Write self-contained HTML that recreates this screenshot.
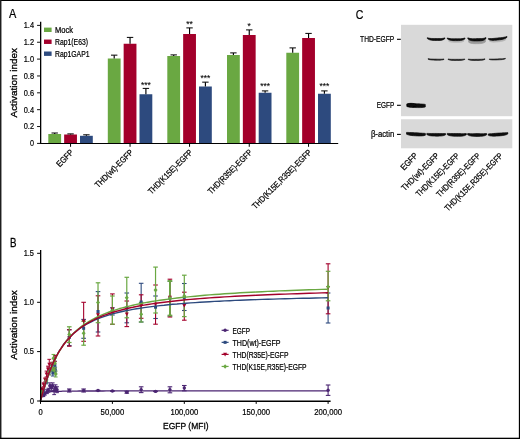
<!DOCTYPE html>
<html lang="en">
<head>
<meta charset="utf-8">
<title>Figure</title>
<style>
html,body{margin:0;padding:0;background:#fff;}
body{width:520px;height:439px;overflow:hidden;}
svg{display:block;font-family:'Liberation Sans', sans-serif;}
svg text{fill:#000;stroke:#000;stroke-width:0.22px;}
</style>
</head>
<body>
<svg role="img" aria-label="Figure panels A, B and C" width="520" height="439" viewBox="0 0 520 439">
<rect x="0" y="0" width="520" height="439" fill="#ffffff"/>
<text x="9.10" y="18.00" font-size="12.0" textLength="7.30" lengthAdjust="spacingAndGlyphs">A</text>
<text x="10.00" y="246.70" font-size="12.8" textLength="6.50" lengthAdjust="spacingAndGlyphs" style="stroke-width:0.3px">B</text>
<text x="355.70" y="18.70" font-size="13.6" textLength="7.60" lengthAdjust="spacingAndGlyphs">C</text>
<rect x="48.30" y="134.00" width="12.80" height="9.40" fill="#6aa842"/>
<line x1="54.70" y1="134.00" x2="54.70" y2="133.00" stroke="#000" stroke-width="1.15"/>
<line x1="51.50" y1="133.00" x2="57.90" y2="133.00" stroke="#000" stroke-width="1.0"/>
<rect x="64.15" y="134.50" width="12.80" height="8.90" fill="#a3002b"/>
<line x1="70.55" y1="134.50" x2="70.55" y2="133.90" stroke="#000" stroke-width="1.15"/>
<line x1="67.35" y1="133.90" x2="73.75" y2="133.90" stroke="#000" stroke-width="1.0"/>
<rect x="80.00" y="135.80" width="12.80" height="7.60" fill="#2d4a7e"/>
<line x1="86.40" y1="135.80" x2="86.40" y2="134.80" stroke="#000" stroke-width="1.15"/>
<line x1="83.20" y1="134.80" x2="89.60" y2="134.80" stroke="#000" stroke-width="1.0"/>
<rect x="107.80" y="58.50" width="12.80" height="84.90" fill="#6aa842"/>
<line x1="114.20" y1="58.50" x2="114.20" y2="55.15" stroke="#000" stroke-width="1.15"/>
<line x1="111.00" y1="55.15" x2="117.40" y2="55.15" stroke="#000" stroke-width="1.0"/>
<rect x="123.65" y="43.75" width="12.80" height="99.65" fill="#a3002b"/>
<line x1="130.05" y1="43.75" x2="130.05" y2="37.40" stroke="#000" stroke-width="1.15"/>
<line x1="126.85" y1="37.40" x2="133.25" y2="37.40" stroke="#000" stroke-width="1.0"/>
<rect x="139.50" y="94.25" width="12.80" height="49.15" fill="#2d4a7e"/>
<line x1="145.90" y1="94.25" x2="145.90" y2="88.40" stroke="#000" stroke-width="1.15"/>
<line x1="142.70" y1="88.40" x2="149.10" y2="88.40" stroke="#000" stroke-width="1.0"/>
<rect x="167.30" y="56.00" width="12.80" height="87.40" fill="#6aa842"/>
<line x1="173.70" y1="56.00" x2="173.70" y2="54.90" stroke="#000" stroke-width="1.15"/>
<line x1="170.50" y1="54.90" x2="176.90" y2="54.90" stroke="#000" stroke-width="1.0"/>
<rect x="183.15" y="34.00" width="12.80" height="109.40" fill="#a3002b"/>
<line x1="189.55" y1="34.00" x2="189.55" y2="27.90" stroke="#000" stroke-width="1.15"/>
<line x1="186.35" y1="27.90" x2="192.75" y2="27.90" stroke="#000" stroke-width="1.0"/>
<rect x="199.00" y="86.50" width="12.80" height="56.90" fill="#2d4a7e"/>
<line x1="205.40" y1="86.50" x2="205.40" y2="82.15" stroke="#000" stroke-width="1.15"/>
<line x1="202.20" y1="82.15" x2="208.60" y2="82.15" stroke="#000" stroke-width="1.0"/>
<rect x="227.00" y="55.00" width="12.80" height="88.40" fill="#6aa842"/>
<line x1="233.40" y1="55.00" x2="233.40" y2="52.90" stroke="#000" stroke-width="1.15"/>
<line x1="230.20" y1="52.90" x2="236.60" y2="52.90" stroke="#000" stroke-width="1.0"/>
<rect x="242.85" y="35.00" width="12.80" height="108.40" fill="#a3002b"/>
<line x1="249.25" y1="35.00" x2="249.25" y2="29.90" stroke="#000" stroke-width="1.15"/>
<line x1="246.05" y1="29.90" x2="252.45" y2="29.90" stroke="#000" stroke-width="1.0"/>
<rect x="258.70" y="92.75" width="12.80" height="50.65" fill="#2d4a7e"/>
<line x1="265.10" y1="92.75" x2="265.10" y2="90.90" stroke="#000" stroke-width="1.15"/>
<line x1="261.90" y1="90.90" x2="268.30" y2="90.90" stroke="#000" stroke-width="1.0"/>
<rect x="286.30" y="52.75" width="12.80" height="90.65" fill="#6aa842"/>
<line x1="292.70" y1="52.75" x2="292.70" y2="47.90" stroke="#000" stroke-width="1.15"/>
<line x1="289.50" y1="47.90" x2="295.90" y2="47.90" stroke="#000" stroke-width="1.0"/>
<rect x="302.15" y="38.00" width="12.80" height="105.40" fill="#a3002b"/>
<line x1="308.55" y1="38.00" x2="308.55" y2="33.40" stroke="#000" stroke-width="1.15"/>
<line x1="305.35" y1="33.40" x2="311.75" y2="33.40" stroke="#000" stroke-width="1.0"/>
<rect x="318.00" y="93.75" width="12.80" height="49.65" fill="#2d4a7e"/>
<line x1="324.40" y1="93.75" x2="324.40" y2="90.90" stroke="#000" stroke-width="1.15"/>
<line x1="321.20" y1="90.90" x2="327.60" y2="90.90" stroke="#000" stroke-width="1.0"/>
<line x1="40.65" y1="21.80" x2="40.65" y2="143.90" stroke="#000" stroke-width="1.3"/>
<line x1="39.85" y1="143.45" x2="338.20" y2="143.45" stroke="#000" stroke-width="1.15"/>
<line x1="37.05" y1="143.40" x2="40.45" y2="143.40" stroke="#111" stroke-width="1.0"/>
<text x="34.05" y="146.35" font-size="9.3" text-anchor="end" textLength="4.00" lengthAdjust="spacingAndGlyphs">0</text>
<line x1="37.05" y1="126.54" x2="40.45" y2="126.54" stroke="#111" stroke-width="1.0"/>
<text x="34.05" y="129.49" font-size="9.3" text-anchor="end" textLength="10.30" lengthAdjust="spacingAndGlyphs">0.2</text>
<line x1="37.05" y1="109.68" x2="40.45" y2="109.68" stroke="#111" stroke-width="1.0"/>
<text x="34.05" y="112.63" font-size="9.3" text-anchor="end" textLength="10.30" lengthAdjust="spacingAndGlyphs">0.4</text>
<line x1="37.05" y1="92.82" x2="40.45" y2="92.82" stroke="#111" stroke-width="1.0"/>
<text x="34.05" y="95.77" font-size="9.3" text-anchor="end" textLength="10.30" lengthAdjust="spacingAndGlyphs">0.6</text>
<line x1="37.05" y1="75.96" x2="40.45" y2="75.96" stroke="#111" stroke-width="1.0"/>
<text x="34.05" y="78.91" font-size="9.3" text-anchor="end" textLength="10.30" lengthAdjust="spacingAndGlyphs">0.8</text>
<line x1="37.05" y1="59.10" x2="40.45" y2="59.10" stroke="#111" stroke-width="1.0"/>
<text x="34.05" y="62.05" font-size="9.3" text-anchor="end" textLength="10.30" lengthAdjust="spacingAndGlyphs">1.0</text>
<line x1="37.05" y1="42.24" x2="40.45" y2="42.24" stroke="#111" stroke-width="1.0"/>
<text x="34.05" y="45.19" font-size="9.3" text-anchor="end" textLength="10.30" lengthAdjust="spacingAndGlyphs">1.2</text>
<line x1="37.05" y1="25.38" x2="40.45" y2="25.38" stroke="#111" stroke-width="1.0"/>
<text x="34.05" y="28.33" font-size="9.3" text-anchor="end" textLength="10.30" lengthAdjust="spacingAndGlyphs">1.4</text>
<line x1="70.55" y1="143.40" x2="70.55" y2="146.80" stroke="#000" stroke-width="1.0"/>
<line x1="130.05" y1="143.40" x2="130.05" y2="146.80" stroke="#000" stroke-width="1.0"/>
<line x1="189.55" y1="143.40" x2="189.55" y2="146.80" stroke="#000" stroke-width="1.0"/>
<line x1="249.25" y1="143.40" x2="249.25" y2="146.80" stroke="#000" stroke-width="1.0"/>
<line x1="308.55" y1="143.40" x2="308.55" y2="146.80" stroke="#000" stroke-width="1.0"/>
<text x="16.60" y="82.80" font-size="9.4" text-anchor="middle" textLength="69.30" lengthAdjust="spacingAndGlyphs" transform="rotate(-90 16.60 82.80)" style="stroke-width:0.32px">Activation index</text>
<rect x="44.00" y="27.60" width="7.60" height="4.40" fill="#6aa842"/>
<text x="55.00" y="32.50" font-size="8.6" textLength="18.00" lengthAdjust="spacingAndGlyphs">Mock</text>
<rect x="44.00" y="39.55" width="7.60" height="4.40" fill="#a3002b"/>
<text x="55.00" y="44.60" font-size="8.6" textLength="33.00" lengthAdjust="spacingAndGlyphs">Rap1(E63)</text>
<rect x="44.00" y="51.50" width="7.60" height="4.40" fill="#2d4a7e"/>
<text x="55.00" y="56.70" font-size="8.6" textLength="34.50" lengthAdjust="spacingAndGlyphs">Rap1GAP1</text>
<text x="145.90" y="87.70" font-size="8.6" text-anchor="middle" textLength="9.90" lengthAdjust="spacingAndGlyphs" style="stroke-width:0.1px">***</text>
<text x="189.55" y="27.20" font-size="8.6" text-anchor="middle" textLength="6.60" lengthAdjust="spacingAndGlyphs" style="stroke-width:0.1px">**</text>
<text x="205.40" y="80.70" font-size="8.6" text-anchor="middle" textLength="9.90" lengthAdjust="spacingAndGlyphs" style="stroke-width:0.1px">***</text>
<text x="249.25" y="29.20" font-size="8.6" text-anchor="middle" textLength="3.30" lengthAdjust="spacingAndGlyphs" style="stroke-width:0.1px">*</text>
<text x="265.10" y="89.20" font-size="8.6" text-anchor="middle" textLength="9.90" lengthAdjust="spacingAndGlyphs" style="stroke-width:0.1px">***</text>
<text x="324.40" y="89.20" font-size="8.6" text-anchor="middle" textLength="9.90" lengthAdjust="spacingAndGlyphs" style="stroke-width:0.1px">***</text>
<text x="74.15" y="153.00" font-size="8.6" text-anchor="end" textLength="20.50" lengthAdjust="spacingAndGlyphs" transform="rotate(-45 74.15 153.00)">EGFP</text>
<text x="133.65" y="153.00" font-size="8.6" text-anchor="end" textLength="50.00" lengthAdjust="spacingAndGlyphs" transform="rotate(-45 133.65 153.00)">THD(wt)-EGFP</text>
<text x="193.15" y="153.00" font-size="8.6" text-anchor="end" textLength="59.00" lengthAdjust="spacingAndGlyphs" transform="rotate(-45 193.15 153.00)">THD(K15E)-EGFP</text>
<text x="252.85" y="153.00" font-size="8.6" text-anchor="end" textLength="59.00" lengthAdjust="spacingAndGlyphs" transform="rotate(-45 252.85 153.00)">THD(R35E)-EGFP</text>
<text x="312.15" y="153.00" font-size="8.6" text-anchor="end" textLength="80.00" lengthAdjust="spacingAndGlyphs" transform="rotate(-45 312.15 153.00)">THD(K15E,R35E)-EGFP</text>
<defs><filter id="bl" x="-20%" y="-100%" width="140%" height="300%"><feGaussianBlur stdDeviation="0.5"/></filter><filter id="bl2" x="-20%" y="-100%" width="140%" height="300%"><feGaussianBlur stdDeviation="0.4"/></filter></defs>
<rect x="401.00" y="24.80" width="111.30" height="91.40" fill="#d9d9d9"/>
<rect x="401.00" y="119.25" width="111.30" height="29.05" fill="#d9d9d9"/>
<path d="M427.3 37.65L428.8 38.07L430.2 38.34L431.7 38.46L433.1 38.49L434.6 38.49L436.1 38.50L437.5 38.52L439.0 38.55L440.4 38.56L441.9 38.47L443.3 38.24L444.8 37.85L444.8 38.75L443.3 39.68L441.9 40.15L440.4 40.38L439.0 40.48L437.5 40.51L436.1 40.50L434.6 40.47L433.1 40.41L431.7 40.28L430.2 40.01L428.8 39.51L427.3 38.55Z" fill="#080808" stroke="#080808" stroke-width="0.6" stroke-linejoin="round" opacity="1" filter="url(#bl)"/>
<path d="M447.3 37.95L448.8 38.35L450.2 38.61L451.7 38.71L453.2 38.72L454.7 38.71L456.1 38.70L457.6 38.71L459.1 38.72L460.6 38.71L462.1 38.61L463.5 38.35L465.0 37.95L465.0 38.85L463.5 39.79L462.1 40.28L460.6 40.53L459.1 40.65L457.6 40.69L456.1 40.70L454.7 40.69L453.2 40.65L451.7 40.53L450.2 40.28L448.8 39.79L447.3 38.85Z" fill="#080808" stroke="#080808" stroke-width="0.6" stroke-linejoin="round" opacity="1" filter="url(#bl)"/>
<path d="M467.8 37.80L469.3 38.27L470.8 38.56L472.4 38.66L473.9 38.66L475.4 38.63L476.9 38.60L478.4 38.59L479.9 38.59L481.4 38.56L483.0 38.43L484.5 38.10L486.0 37.60L486.0 38.60L484.5 39.79L483.0 40.41L481.4 40.74L479.9 40.90L478.4 40.97L476.9 41.00L475.4 41.00L473.9 40.97L472.4 40.84L470.8 40.54L469.3 39.96L467.8 38.80Z" fill="#080808" stroke="#080808" stroke-width="0.6" stroke-linejoin="round" opacity="1" filter="url(#bl)"/>
<path d="M488.4 38.45L489.9 38.56L491.5 38.58L493.0 38.48L494.6 38.31L496.1 38.13L497.7 37.95L499.2 37.79L500.8 37.64L502.4 37.48L503.9 37.24L505.4 36.89L507.0 36.45L507.0 37.35L505.4 38.38L503.9 38.99L502.4 39.39L500.8 39.66L499.2 39.87L497.7 40.05L496.1 40.21L494.6 40.33L493.0 40.39L491.5 40.32L489.9 40.05L488.4 39.35Z" fill="#080808" stroke="#080808" stroke-width="0.6" stroke-linejoin="round" opacity="1" filter="url(#bl)"/>
<path d="M448.5 40.65L449.8 40.79L451.1 40.91L452.4 40.94L453.7 40.93L455.0 40.91L456.2 40.90L457.5 40.91L458.8 40.93L460.1 40.94L461.4 40.91L462.7 40.79L464.0 40.65L464.0 41.15L462.7 41.83L461.4 42.18L460.1 42.36L458.8 42.45L457.5 42.49L456.2 42.50L455.0 42.49L453.7 42.45L452.4 42.36L451.1 42.18L449.8 41.83L448.5 41.15Z" fill="#080808" stroke="#080808" stroke-width="0.6" stroke-linejoin="round" opacity="0.15" filter="url(#bl)"/>
<path d="M468.6 40.00L470.0 40.21L471.4 40.35L472.8 40.38L474.2 40.36L475.6 40.33L477.0 40.30L478.4 40.29L479.8 40.30L481.2 40.28L482.6 40.21L484.0 40.04L485.4 39.80L485.4 42.00L484.0 42.83L482.6 43.26L481.2 43.49L479.8 43.61L478.4 43.67L477.0 43.70L475.6 43.71L474.2 43.68L472.8 43.59L471.4 43.39L470.0 43.00L468.6 42.20Z" fill="#080808" stroke="#080808" stroke-width="0.6" stroke-linejoin="round" opacity="0.3" filter="url(#bl)"/>
<path d="M489.5 40.65L490.9 40.56L492.2 40.50L493.6 40.37L495.0 40.21L496.4 40.05L497.8 39.90L499.1 39.78L500.5 39.67L501.9 39.57L503.2 39.43L504.6 39.23L506.0 39.05L506.0 39.55L504.6 40.47L503.2 40.99L501.9 41.33L500.5 41.57L499.1 41.75L497.8 41.90L496.4 42.02L495.0 42.11L493.6 42.13L492.2 42.05L490.9 41.80L489.5 41.15Z" fill="#080808" stroke="#080808" stroke-width="0.6" stroke-linejoin="round" opacity="0.18" filter="url(#bl)"/>
<path d="M428.0 58.65L429.3 58.84L430.7 58.97L432.0 59.04L433.3 59.06L434.7 59.08L436.0 59.10L437.3 59.13L438.7 59.16L440.0 59.19L441.3 59.17L442.7 59.09L444.0 58.95L444.0 59.45L442.7 59.88L441.3 60.09L440.0 60.19L438.7 60.22L437.3 60.22L436.0 60.20L434.7 60.17L433.3 60.12L432.0 60.04L430.7 59.89L429.3 59.63L428.0 59.15Z" fill="#080808" stroke="#080808" stroke-width="0.6" stroke-linejoin="round" opacity="0.9" filter="url(#bl2)"/>
<path d="M448.0 58.95L449.4 59.14L450.8 59.27L452.2 59.31L453.6 59.32L455.0 59.31L456.4 59.30L457.8 59.31L459.2 59.32L460.6 59.31L462.0 59.27L463.4 59.14L464.8 58.95L464.8 59.45L463.4 59.98L462.0 60.26L460.6 60.40L459.2 60.47L457.8 60.49L456.4 60.50L455.0 60.49L453.6 60.47L452.2 60.40L450.8 60.26L449.4 59.98L448.0 59.45Z" fill="#080808" stroke="#080808" stroke-width="0.6" stroke-linejoin="round" opacity="0.9" filter="url(#bl2)"/>
<path d="M468.2 59.05L469.6 59.22L471.0 59.33L472.4 59.36L473.8 59.35L475.2 59.32L476.6 59.30L478.0 59.29L479.4 59.28L480.8 59.26L482.2 59.20L483.6 59.06L485.0 58.85L485.0 59.35L483.6 59.90L482.2 60.19L480.8 60.35L479.4 60.43L478.0 60.48L476.6 60.50L475.2 60.51L473.8 60.50L472.4 60.45L471.0 60.32L469.6 60.07L468.2 59.55Z" fill="#080808" stroke="#080808" stroke-width="0.6" stroke-linejoin="round" opacity="0.9" filter="url(#bl2)"/>
<path d="M489.3 58.95L490.6 59.04L492.0 59.08L493.3 59.06L494.7 59.01L496.0 58.95L497.4 58.90L498.7 58.85L500.0 58.81L501.4 58.76L502.7 58.68L504.1 58.54L505.4 58.35L505.4 58.85L504.1 59.28L502.7 59.53L501.4 59.68L500.0 59.78L498.7 59.85L497.4 59.90L496.0 59.95L494.7 59.98L493.3 59.98L492.0 59.93L490.6 59.78L489.3 59.45Z" fill="#080808" stroke="#080808" stroke-width="0.6" stroke-linejoin="round" opacity="0.9" filter="url(#bl2)"/>
<path d="M406.8 103.90L408.3 103.75L409.9 103.72L411.4 103.71L413.0 103.71L414.5 103.72L416.1 103.75L417.6 103.80L419.1 103.87L420.7 103.96L422.2 104.06L423.8 104.17L425.3 104.40L425.3 107.00L423.8 107.36L422.2 107.50L420.7 107.57L419.1 107.59L417.6 107.58L416.1 107.55L414.5 107.50L413.0 107.42L411.4 107.32L409.9 107.17L408.3 106.94L406.8 106.50Z" fill="#080808" stroke="#080808" stroke-width="0.6" stroke-linejoin="round" opacity="1" filter="url(#bl)"/>
<path d="M407.2 104.20L407.9 103.73L408.7 103.55L409.4 103.43L410.1 103.37L410.9 103.34L411.6 103.35L412.3 103.39L413.1 103.47L413.8 103.58L414.5 103.75L415.3 103.98L416.0 104.50L416.0 106.10L415.3 106.57L414.5 106.75L413.8 106.87L413.1 106.93L412.3 106.96L411.6 106.95L410.9 106.91L410.1 106.83L409.4 106.72L408.7 106.55L407.9 106.32L407.2 105.80Z" fill="#080808" stroke="#080808" stroke-width="0.6" stroke-linejoin="round" opacity="1" filter="url(#bl)"/>
<line x1="408.00" y1="134.30" x2="507.00" y2="134.30" stroke="#111" stroke-width="1.2" filter="url(#bl2)"/>
<path d="M406.5 132.40L408.1 132.42L409.6 132.51L411.2 132.57L412.8 132.62L414.4 132.68L415.9 132.75L417.5 132.84L419.1 132.95L420.7 133.07L422.2 133.18L423.8 133.26L425.4 133.40L425.4 135.20L423.8 135.69L422.2 135.89L420.7 135.97L419.1 135.97L417.5 135.92L415.9 135.85L414.4 135.76L412.8 135.63L411.2 135.47L409.6 135.22L408.1 134.86L406.5 134.20Z" fill="#080808" stroke="#080808" stroke-width="0.6" stroke-linejoin="round" opacity="1" filter="url(#bl)"/>
<path d="M426.8 133.40L428.4 133.41L429.9 133.47L431.5 133.48L433.1 133.46L434.6 133.45L436.2 133.45L437.8 133.48L439.3 133.53L440.9 133.58L442.5 133.60L444.0 133.58L445.6 133.60L445.6 134.80L444.0 135.51L442.5 135.86L440.9 136.04L439.3 136.12L437.8 136.15L436.2 136.15L434.6 136.12L433.1 136.06L431.5 135.94L429.9 135.72L428.4 135.35L426.8 134.60Z" fill="#080808" stroke="#080808" stroke-width="0.6" stroke-linejoin="round" opacity="1" filter="url(#bl)"/>
<path d="M447.2 133.40L448.8 133.44L450.4 133.51L452.0 133.53L453.6 133.51L455.2 133.50L456.8 133.50L458.4 133.53L460.0 133.58L461.6 133.63L463.2 133.65L464.8 133.60L466.4 133.60L466.4 134.80L464.8 135.59L463.2 135.97L461.6 136.17L460.0 136.27L458.4 136.30L456.8 136.30L455.2 136.27L453.6 136.20L452.0 136.07L450.4 135.84L448.8 135.42L447.2 134.60Z" fill="#080808" stroke="#080808" stroke-width="0.6" stroke-linejoin="round" opacity="1" filter="url(#bl)"/>
<path d="M467.6 133.60L469.2 133.62L470.8 133.68L472.4 133.68L474.0 133.64L475.6 133.61L477.1 133.60L478.7 133.61L480.3 133.64L481.9 133.68L483.5 133.68L485.1 133.62L486.7 133.60L486.7 134.80L485.1 135.61L483.5 136.00L481.9 136.22L480.3 136.34L478.7 136.39L477.1 136.40L475.6 136.39L474.0 136.34L472.4 136.22L470.8 136.00L469.2 135.61L467.6 134.80Z" fill="#080808" stroke="#080808" stroke-width="0.6" stroke-linejoin="round" opacity="1" filter="url(#bl)"/>
<path d="M488.3 133.90L489.9 133.73L491.6 133.64L493.2 133.51L494.8 133.36L496.4 133.22L498.1 133.10L499.7 133.00L501.3 132.93L502.9 132.86L504.6 132.77L506.2 132.65L507.8 132.60L507.8 134.00L506.2 134.79L504.6 135.23L502.9 135.52L501.3 135.72L499.7 135.88L498.1 136.00L496.4 136.10L494.8 136.16L493.2 136.17L491.6 136.09L489.9 135.87L488.3 135.30Z" fill="#080808" stroke="#080808" stroke-width="0.6" stroke-linejoin="round" opacity="1" filter="url(#bl)"/>
<text x="394.30" y="42.20" font-size="8.6" text-anchor="end" textLength="34.20" lengthAdjust="spacingAndGlyphs">THD-EGFP</text>
<text x="394.30" y="107.60" font-size="8.6" text-anchor="end" textLength="17.50" lengthAdjust="spacingAndGlyphs">EGFP</text>
<text x="394.30" y="137.00" font-size="8.6" text-anchor="end" textLength="23.40" lengthAdjust="spacingAndGlyphs">β-actin</text>
<line x1="397.00" y1="39.30" x2="400.80" y2="39.30" stroke="#000" stroke-width="1.1"/>
<line x1="397.00" y1="105.30" x2="400.80" y2="105.30" stroke="#000" stroke-width="1.1"/>
<line x1="397.00" y1="134.40" x2="400.80" y2="134.40" stroke="#000" stroke-width="1.1"/>
<text x="418.40" y="156.30" font-size="8.6" text-anchor="end" textLength="20.50" lengthAdjust="spacingAndGlyphs" transform="rotate(-45 418.40 156.30)">EGFP</text>
<text x="439.80" y="156.30" font-size="8.6" text-anchor="end" textLength="49.50" lengthAdjust="spacingAndGlyphs" transform="rotate(-45 439.80 156.30)">THD(wt)-EGFP</text>
<text x="460.20" y="156.30" font-size="8.6" text-anchor="end" textLength="58.00" lengthAdjust="spacingAndGlyphs" transform="rotate(-45 460.20 156.30)">THD(K15E)-EGFP</text>
<text x="481.00" y="156.30" font-size="8.6" text-anchor="end" textLength="58.50" lengthAdjust="spacingAndGlyphs" transform="rotate(-45 481.00 156.30)">THD(R35E)-EGFP</text>
<text x="503.40" y="156.30" font-size="8.6" text-anchor="end" textLength="78.50" lengthAdjust="spacingAndGlyphs" transform="rotate(-45 503.40 156.30)">THD(K15E,R35E)-EGFP</text>
<line x1="43.38" y1="394.62" x2="43.38" y2="396.58" stroke="#4b2572" stroke-width="1.0"/>
<line x1="41.48" y1="394.62" x2="45.28" y2="394.62" stroke="#4b2572" stroke-width="1.0"/>
<line x1="41.48" y1="396.58" x2="45.28" y2="396.58" stroke="#4b2572" stroke-width="1.0"/>
<line x1="44.81" y1="392.17" x2="44.81" y2="395.11" stroke="#4b2572" stroke-width="1.0"/>
<line x1="42.91" y1="392.17" x2="46.71" y2="392.17" stroke="#4b2572" stroke-width="1.0"/>
<line x1="42.91" y1="395.11" x2="46.71" y2="395.11" stroke="#4b2572" stroke-width="1.0"/>
<line x1="46.97" y1="389.72" x2="46.97" y2="393.64" stroke="#4b2572" stroke-width="1.0"/>
<line x1="45.07" y1="389.72" x2="48.87" y2="389.72" stroke="#4b2572" stroke-width="1.0"/>
<line x1="45.07" y1="393.64" x2="48.87" y2="393.64" stroke="#4b2572" stroke-width="1.0"/>
<line x1="48.41" y1="388.25" x2="48.41" y2="392.17" stroke="#4b2572" stroke-width="1.0"/>
<line x1="46.51" y1="388.25" x2="50.31" y2="388.25" stroke="#4b2572" stroke-width="1.0"/>
<line x1="46.51" y1="392.17" x2="50.31" y2="392.17" stroke="#4b2572" stroke-width="1.0"/>
<line x1="49.85" y1="382.86" x2="49.85" y2="388.74" stroke="#4b2572" stroke-width="1.0"/>
<line x1="47.95" y1="382.86" x2="51.75" y2="382.86" stroke="#4b2572" stroke-width="1.0"/>
<line x1="47.95" y1="388.74" x2="51.75" y2="388.74" stroke="#4b2572" stroke-width="1.0"/>
<line x1="51.28" y1="384.82" x2="51.28" y2="390.70" stroke="#4b2572" stroke-width="1.0"/>
<line x1="49.38" y1="384.82" x2="53.18" y2="384.82" stroke="#4b2572" stroke-width="1.0"/>
<line x1="49.38" y1="390.70" x2="53.18" y2="390.70" stroke="#4b2572" stroke-width="1.0"/>
<line x1="52.72" y1="382.86" x2="52.72" y2="388.74" stroke="#4b2572" stroke-width="1.0"/>
<line x1="50.82" y1="382.86" x2="54.62" y2="382.86" stroke="#4b2572" stroke-width="1.0"/>
<line x1="50.82" y1="388.74" x2="54.62" y2="388.74" stroke="#4b2572" stroke-width="1.0"/>
<line x1="54.16" y1="386.78" x2="54.16" y2="394.62" stroke="#4b2572" stroke-width="1.0"/>
<line x1="52.26" y1="386.78" x2="56.06" y2="386.78" stroke="#4b2572" stroke-width="1.0"/>
<line x1="52.26" y1="394.62" x2="56.06" y2="394.62" stroke="#4b2572" stroke-width="1.0"/>
<line x1="55.60" y1="384.82" x2="55.60" y2="390.70" stroke="#4b2572" stroke-width="1.0"/>
<line x1="53.70" y1="384.82" x2="57.50" y2="384.82" stroke="#4b2572" stroke-width="1.0"/>
<line x1="53.70" y1="390.70" x2="57.50" y2="390.70" stroke="#4b2572" stroke-width="1.0"/>
<line x1="57.04" y1="386.78" x2="57.04" y2="392.66" stroke="#4b2572" stroke-width="1.0"/>
<line x1="55.14" y1="386.78" x2="58.94" y2="386.78" stroke="#4b2572" stroke-width="1.0"/>
<line x1="55.14" y1="392.66" x2="58.94" y2="392.66" stroke="#4b2572" stroke-width="1.0"/>
<line x1="69.26" y1="389.00" x2="69.26" y2="392.00" stroke="#4b2572" stroke-width="1.1"/>
<line x1="66.96" y1="389.00" x2="71.56" y2="389.00" stroke="#4b2572" stroke-width="1.1"/>
<line x1="66.96" y1="392.00" x2="71.56" y2="392.00" stroke="#4b2572" stroke-width="1.1"/>
<line x1="83.64" y1="389.00" x2="83.64" y2="392.00" stroke="#4b2572" stroke-width="1.1"/>
<line x1="81.34" y1="389.00" x2="85.94" y2="389.00" stroke="#4b2572" stroke-width="1.1"/>
<line x1="81.34" y1="392.00" x2="85.94" y2="392.00" stroke="#4b2572" stroke-width="1.1"/>
<line x1="98.02" y1="390.30" x2="98.02" y2="390.70" stroke="#4b2572" stroke-width="1.1"/>
<line x1="95.72" y1="390.30" x2="100.32" y2="390.30" stroke="#4b2572" stroke-width="1.1"/>
<line x1="95.72" y1="390.70" x2="100.32" y2="390.70" stroke="#4b2572" stroke-width="1.1"/>
<line x1="112.40" y1="390.80" x2="112.40" y2="391.20" stroke="#4b2572" stroke-width="1.1"/>
<line x1="110.10" y1="390.80" x2="114.70" y2="390.80" stroke="#4b2572" stroke-width="1.1"/>
<line x1="110.10" y1="391.20" x2="114.70" y2="391.20" stroke="#4b2572" stroke-width="1.1"/>
<line x1="126.78" y1="391.30" x2="126.78" y2="393.20" stroke="#4b2572" stroke-width="1.1"/>
<line x1="124.48" y1="391.30" x2="129.08" y2="391.30" stroke="#4b2572" stroke-width="1.1"/>
<line x1="124.48" y1="393.20" x2="129.08" y2="393.20" stroke="#4b2572" stroke-width="1.1"/>
<line x1="141.16" y1="386.80" x2="141.16" y2="392.60" stroke="#4b2572" stroke-width="1.1"/>
<line x1="138.86" y1="386.80" x2="143.46" y2="386.80" stroke="#4b2572" stroke-width="1.1"/>
<line x1="138.86" y1="392.60" x2="143.46" y2="392.60" stroke="#4b2572" stroke-width="1.1"/>
<line x1="155.54" y1="391.20" x2="155.54" y2="391.60" stroke="#4b2572" stroke-width="1.1"/>
<line x1="153.24" y1="391.20" x2="157.84" y2="391.20" stroke="#4b2572" stroke-width="1.1"/>
<line x1="153.24" y1="391.60" x2="157.84" y2="391.60" stroke="#4b2572" stroke-width="1.1"/>
<line x1="169.92" y1="386.80" x2="169.92" y2="392.80" stroke="#4b2572" stroke-width="1.1"/>
<line x1="167.62" y1="386.80" x2="172.22" y2="386.80" stroke="#4b2572" stroke-width="1.1"/>
<line x1="167.62" y1="392.80" x2="172.22" y2="392.80" stroke="#4b2572" stroke-width="1.1"/>
<line x1="184.30" y1="385.50" x2="184.30" y2="390.80" stroke="#4b2572" stroke-width="1.1"/>
<line x1="182.00" y1="385.50" x2="186.60" y2="385.50" stroke="#4b2572" stroke-width="1.1"/>
<line x1="182.00" y1="390.80" x2="186.60" y2="390.80" stroke="#4b2572" stroke-width="1.1"/>
<line x1="328.10" y1="385.00" x2="328.10" y2="395.40" stroke="#4b2572" stroke-width="1.1"/>
<line x1="325.80" y1="385.00" x2="330.40" y2="385.00" stroke="#4b2572" stroke-width="1.1"/>
<line x1="325.80" y1="395.40" x2="330.40" y2="395.40" stroke="#4b2572" stroke-width="1.1"/>
<line x1="43.38" y1="388.74" x2="43.38" y2="392.66" stroke="#2d4a7e" stroke-width="1.0"/>
<line x1="41.48" y1="388.74" x2="45.28" y2="388.74" stroke="#2d4a7e" stroke-width="1.0"/>
<line x1="41.48" y1="392.66" x2="45.28" y2="392.66" stroke="#2d4a7e" stroke-width="1.0"/>
<line x1="46.25" y1="379.92" x2="46.25" y2="383.84" stroke="#2d4a7e" stroke-width="1.0"/>
<line x1="44.35" y1="379.92" x2="48.15" y2="379.92" stroke="#2d4a7e" stroke-width="1.0"/>
<line x1="44.35" y1="383.84" x2="48.15" y2="383.84" stroke="#2d4a7e" stroke-width="1.0"/>
<line x1="49.13" y1="368.16" x2="49.13" y2="374.04" stroke="#2d4a7e" stroke-width="1.0"/>
<line x1="47.23" y1="368.16" x2="51.03" y2="368.16" stroke="#2d4a7e" stroke-width="1.0"/>
<line x1="47.23" y1="374.04" x2="51.03" y2="374.04" stroke="#2d4a7e" stroke-width="1.0"/>
<line x1="52.00" y1="365.22" x2="52.00" y2="371.10" stroke="#2d4a7e" stroke-width="1.0"/>
<line x1="50.10" y1="365.22" x2="53.90" y2="365.22" stroke="#2d4a7e" stroke-width="1.0"/>
<line x1="50.10" y1="371.10" x2="53.90" y2="371.10" stroke="#2d4a7e" stroke-width="1.0"/>
<line x1="54.88" y1="361.30" x2="54.88" y2="369.14" stroke="#2d4a7e" stroke-width="1.0"/>
<line x1="52.98" y1="361.30" x2="56.78" y2="361.30" stroke="#2d4a7e" stroke-width="1.0"/>
<line x1="52.98" y1="369.14" x2="56.78" y2="369.14" stroke="#2d4a7e" stroke-width="1.0"/>
<line x1="52.87" y1="370.12" x2="52.87" y2="376.00" stroke="#2d4a7e" stroke-width="1.0"/>
<line x1="50.97" y1="370.12" x2="54.77" y2="370.12" stroke="#2d4a7e" stroke-width="1.0"/>
<line x1="50.97" y1="376.00" x2="54.77" y2="376.00" stroke="#2d4a7e" stroke-width="1.0"/>
<line x1="55.17" y1="367.18" x2="55.17" y2="373.06" stroke="#2d4a7e" stroke-width="1.0"/>
<line x1="53.27" y1="367.18" x2="57.07" y2="367.18" stroke="#2d4a7e" stroke-width="1.0"/>
<line x1="53.27" y1="373.06" x2="57.07" y2="373.06" stroke="#2d4a7e" stroke-width="1.0"/>
<line x1="69.26" y1="329.70" x2="69.26" y2="345.60" stroke="#2d4a7e" stroke-width="1.1"/>
<line x1="66.96" y1="329.70" x2="71.56" y2="329.70" stroke="#2d4a7e" stroke-width="1.1"/>
<line x1="66.96" y1="345.60" x2="71.56" y2="345.60" stroke="#2d4a7e" stroke-width="1.1"/>
<line x1="83.64" y1="319.40" x2="83.64" y2="338.30" stroke="#2d4a7e" stroke-width="1.1"/>
<line x1="81.34" y1="319.40" x2="85.94" y2="319.40" stroke="#2d4a7e" stroke-width="1.1"/>
<line x1="81.34" y1="338.30" x2="85.94" y2="338.30" stroke="#2d4a7e" stroke-width="1.1"/>
<line x1="98.02" y1="291.60" x2="98.02" y2="332.00" stroke="#2d4a7e" stroke-width="1.1"/>
<line x1="95.72" y1="291.60" x2="100.32" y2="291.60" stroke="#2d4a7e" stroke-width="1.1"/>
<line x1="95.72" y1="332.00" x2="100.32" y2="332.00" stroke="#2d4a7e" stroke-width="1.1"/>
<line x1="112.40" y1="307.80" x2="112.40" y2="315.00" stroke="#2d4a7e" stroke-width="1.1"/>
<line x1="110.10" y1="307.80" x2="114.70" y2="307.80" stroke="#2d4a7e" stroke-width="1.1"/>
<line x1="110.10" y1="315.00" x2="114.70" y2="315.00" stroke="#2d4a7e" stroke-width="1.1"/>
<line x1="126.78" y1="293.00" x2="126.78" y2="322.80" stroke="#2d4a7e" stroke-width="1.1"/>
<line x1="124.48" y1="293.00" x2="129.08" y2="293.00" stroke="#2d4a7e" stroke-width="1.1"/>
<line x1="124.48" y1="322.80" x2="129.08" y2="322.80" stroke="#2d4a7e" stroke-width="1.1"/>
<line x1="141.16" y1="283.30" x2="141.16" y2="322.00" stroke="#2d4a7e" stroke-width="1.1"/>
<line x1="138.86" y1="283.30" x2="143.46" y2="283.30" stroke="#2d4a7e" stroke-width="1.1"/>
<line x1="138.86" y1="322.00" x2="143.46" y2="322.00" stroke="#2d4a7e" stroke-width="1.1"/>
<line x1="155.54" y1="296.00" x2="155.54" y2="318.50" stroke="#2d4a7e" stroke-width="1.1"/>
<line x1="153.24" y1="296.00" x2="157.84" y2="296.00" stroke="#2d4a7e" stroke-width="1.1"/>
<line x1="153.24" y1="318.50" x2="157.84" y2="318.50" stroke="#2d4a7e" stroke-width="1.1"/>
<line x1="169.92" y1="281.30" x2="169.92" y2="316.00" stroke="#2d4a7e" stroke-width="1.1"/>
<line x1="167.62" y1="281.30" x2="172.22" y2="281.30" stroke="#2d4a7e" stroke-width="1.1"/>
<line x1="167.62" y1="316.00" x2="172.22" y2="316.00" stroke="#2d4a7e" stroke-width="1.1"/>
<line x1="184.30" y1="283.50" x2="184.30" y2="310.50" stroke="#2d4a7e" stroke-width="1.1"/>
<line x1="182.00" y1="283.50" x2="186.60" y2="283.50" stroke="#2d4a7e" stroke-width="1.1"/>
<line x1="182.00" y1="310.50" x2="186.60" y2="310.50" stroke="#2d4a7e" stroke-width="1.1"/>
<line x1="328.10" y1="293.00" x2="328.10" y2="323.00" stroke="#2d4a7e" stroke-width="1.1"/>
<line x1="325.80" y1="293.00" x2="330.40" y2="293.00" stroke="#2d4a7e" stroke-width="1.1"/>
<line x1="325.80" y1="323.00" x2="330.40" y2="323.00" stroke="#2d4a7e" stroke-width="1.1"/>
<line x1="42.23" y1="387.76" x2="42.23" y2="391.68" stroke="#a3002b" stroke-width="1.0"/>
<line x1="40.33" y1="387.76" x2="44.13" y2="387.76" stroke="#a3002b" stroke-width="1.0"/>
<line x1="40.33" y1="391.68" x2="44.13" y2="391.68" stroke="#a3002b" stroke-width="1.0"/>
<line x1="43.66" y1="382.86" x2="43.66" y2="386.78" stroke="#a3002b" stroke-width="1.0"/>
<line x1="41.76" y1="382.86" x2="45.56" y2="382.86" stroke="#a3002b" stroke-width="1.0"/>
<line x1="41.76" y1="386.78" x2="45.56" y2="386.78" stroke="#a3002b" stroke-width="1.0"/>
<line x1="45.25" y1="377.96" x2="45.25" y2="381.88" stroke="#a3002b" stroke-width="1.0"/>
<line x1="43.35" y1="377.96" x2="47.15" y2="377.96" stroke="#a3002b" stroke-width="1.0"/>
<line x1="43.35" y1="381.88" x2="47.15" y2="381.88" stroke="#a3002b" stroke-width="1.0"/>
<line x1="46.54" y1="371.10" x2="46.54" y2="376.98" stroke="#a3002b" stroke-width="1.0"/>
<line x1="44.64" y1="371.10" x2="48.44" y2="371.10" stroke="#a3002b" stroke-width="1.0"/>
<line x1="44.64" y1="376.98" x2="48.44" y2="376.98" stroke="#a3002b" stroke-width="1.0"/>
<line x1="47.98" y1="366.20" x2="47.98" y2="372.08" stroke="#a3002b" stroke-width="1.0"/>
<line x1="46.08" y1="366.20" x2="49.88" y2="366.20" stroke="#a3002b" stroke-width="1.0"/>
<line x1="46.08" y1="372.08" x2="49.88" y2="372.08" stroke="#a3002b" stroke-width="1.0"/>
<line x1="49.27" y1="359.34" x2="49.27" y2="369.14" stroke="#a3002b" stroke-width="1.0"/>
<line x1="47.37" y1="359.34" x2="51.17" y2="359.34" stroke="#a3002b" stroke-width="1.0"/>
<line x1="47.37" y1="369.14" x2="51.17" y2="369.14" stroke="#a3002b" stroke-width="1.0"/>
<line x1="52.00" y1="362.28" x2="52.00" y2="368.16" stroke="#a3002b" stroke-width="1.0"/>
<line x1="50.10" y1="362.28" x2="53.90" y2="362.28" stroke="#a3002b" stroke-width="1.0"/>
<line x1="50.10" y1="368.16" x2="53.90" y2="368.16" stroke="#a3002b" stroke-width="1.0"/>
<line x1="54.88" y1="355.42" x2="54.88" y2="361.30" stroke="#a3002b" stroke-width="1.0"/>
<line x1="52.98" y1="355.42" x2="56.78" y2="355.42" stroke="#a3002b" stroke-width="1.0"/>
<line x1="52.98" y1="361.30" x2="56.78" y2="361.30" stroke="#a3002b" stroke-width="1.0"/>
<line x1="69.26" y1="329.80" x2="69.26" y2="346.20" stroke="#a3002b" stroke-width="1.1"/>
<line x1="66.96" y1="329.80" x2="71.56" y2="329.80" stroke="#a3002b" stroke-width="1.1"/>
<line x1="66.96" y1="346.20" x2="71.56" y2="346.20" stroke="#a3002b" stroke-width="1.1"/>
<line x1="83.64" y1="302.30" x2="83.64" y2="341.30" stroke="#a3002b" stroke-width="1.1"/>
<line x1="81.34" y1="302.30" x2="85.94" y2="302.30" stroke="#a3002b" stroke-width="1.1"/>
<line x1="81.34" y1="341.30" x2="85.94" y2="341.30" stroke="#a3002b" stroke-width="1.1"/>
<line x1="98.02" y1="295.80" x2="98.02" y2="336.00" stroke="#a3002b" stroke-width="1.1"/>
<line x1="95.72" y1="295.80" x2="100.32" y2="295.80" stroke="#a3002b" stroke-width="1.1"/>
<line x1="95.72" y1="336.00" x2="100.32" y2="336.00" stroke="#a3002b" stroke-width="1.1"/>
<line x1="112.40" y1="293.90" x2="112.40" y2="324.30" stroke="#a3002b" stroke-width="1.1"/>
<line x1="110.10" y1="293.90" x2="114.70" y2="293.90" stroke="#a3002b" stroke-width="1.1"/>
<line x1="110.10" y1="324.30" x2="114.70" y2="324.30" stroke="#a3002b" stroke-width="1.1"/>
<line x1="126.78" y1="301.00" x2="126.78" y2="326.60" stroke="#a3002b" stroke-width="1.1"/>
<line x1="124.48" y1="301.00" x2="129.08" y2="301.00" stroke="#a3002b" stroke-width="1.1"/>
<line x1="124.48" y1="326.60" x2="129.08" y2="326.60" stroke="#a3002b" stroke-width="1.1"/>
<line x1="141.16" y1="294.80" x2="141.16" y2="318.30" stroke="#a3002b" stroke-width="1.1"/>
<line x1="138.86" y1="294.80" x2="143.46" y2="294.80" stroke="#a3002b" stroke-width="1.1"/>
<line x1="138.86" y1="318.30" x2="143.46" y2="318.30" stroke="#a3002b" stroke-width="1.1"/>
<line x1="155.54" y1="285.00" x2="155.54" y2="324.20" stroke="#a3002b" stroke-width="1.1"/>
<line x1="153.24" y1="285.00" x2="157.84" y2="285.00" stroke="#a3002b" stroke-width="1.1"/>
<line x1="153.24" y1="324.20" x2="157.84" y2="324.20" stroke="#a3002b" stroke-width="1.1"/>
<line x1="169.92" y1="279.20" x2="169.92" y2="317.00" stroke="#a3002b" stroke-width="1.1"/>
<line x1="167.62" y1="279.20" x2="172.22" y2="279.20" stroke="#a3002b" stroke-width="1.1"/>
<line x1="167.62" y1="317.00" x2="172.22" y2="317.00" stroke="#a3002b" stroke-width="1.1"/>
<line x1="184.30" y1="292.20" x2="184.30" y2="320.20" stroke="#a3002b" stroke-width="1.1"/>
<line x1="182.00" y1="292.20" x2="186.60" y2="292.20" stroke="#a3002b" stroke-width="1.1"/>
<line x1="182.00" y1="320.20" x2="186.60" y2="320.20" stroke="#a3002b" stroke-width="1.1"/>
<line x1="328.10" y1="263.80" x2="328.10" y2="313.80" stroke="#a3002b" stroke-width="1.1"/>
<line x1="325.80" y1="263.80" x2="330.40" y2="263.80" stroke="#a3002b" stroke-width="1.1"/>
<line x1="325.80" y1="313.80" x2="330.40" y2="313.80" stroke="#a3002b" stroke-width="1.1"/>
<line x1="41.94" y1="390.21" x2="41.94" y2="394.13" stroke="#6aa842" stroke-width="1.0"/>
<line x1="40.04" y1="390.21" x2="43.84" y2="390.21" stroke="#6aa842" stroke-width="1.0"/>
<line x1="40.04" y1="394.13" x2="43.84" y2="394.13" stroke="#6aa842" stroke-width="1.0"/>
<line x1="46.25" y1="378.94" x2="46.25" y2="382.86" stroke="#6aa842" stroke-width="1.0"/>
<line x1="44.35" y1="378.94" x2="48.15" y2="378.94" stroke="#6aa842" stroke-width="1.0"/>
<line x1="44.35" y1="382.86" x2="48.15" y2="382.86" stroke="#6aa842" stroke-width="1.0"/>
<line x1="49.13" y1="369.14" x2="49.13" y2="375.02" stroke="#6aa842" stroke-width="1.0"/>
<line x1="47.23" y1="369.14" x2="51.03" y2="369.14" stroke="#6aa842" stroke-width="1.0"/>
<line x1="47.23" y1="375.02" x2="51.03" y2="375.02" stroke="#6aa842" stroke-width="1.0"/>
<line x1="52.00" y1="365.22" x2="52.00" y2="371.10" stroke="#6aa842" stroke-width="1.0"/>
<line x1="50.10" y1="365.22" x2="53.90" y2="365.22" stroke="#6aa842" stroke-width="1.0"/>
<line x1="50.10" y1="371.10" x2="53.90" y2="371.10" stroke="#6aa842" stroke-width="1.0"/>
<line x1="53.44" y1="354.44" x2="53.44" y2="362.28" stroke="#6aa842" stroke-width="1.0"/>
<line x1="51.54" y1="354.44" x2="55.34" y2="354.44" stroke="#6aa842" stroke-width="1.0"/>
<line x1="51.54" y1="362.28" x2="55.34" y2="362.28" stroke="#6aa842" stroke-width="1.0"/>
<line x1="54.88" y1="358.36" x2="54.88" y2="368.16" stroke="#6aa842" stroke-width="1.0"/>
<line x1="52.98" y1="358.36" x2="56.78" y2="358.36" stroke="#6aa842" stroke-width="1.0"/>
<line x1="52.98" y1="368.16" x2="56.78" y2="368.16" stroke="#6aa842" stroke-width="1.0"/>
<line x1="54.16" y1="367.18" x2="54.16" y2="373.06" stroke="#6aa842" stroke-width="1.0"/>
<line x1="52.26" y1="367.18" x2="56.06" y2="367.18" stroke="#6aa842" stroke-width="1.0"/>
<line x1="52.26" y1="373.06" x2="56.06" y2="373.06" stroke="#6aa842" stroke-width="1.0"/>
<line x1="55.74" y1="371.10" x2="55.74" y2="376.98" stroke="#6aa842" stroke-width="1.0"/>
<line x1="53.84" y1="371.10" x2="57.64" y2="371.10" stroke="#6aa842" stroke-width="1.0"/>
<line x1="53.84" y1="376.98" x2="57.64" y2="376.98" stroke="#6aa842" stroke-width="1.0"/>
<line x1="69.26" y1="326.80" x2="69.26" y2="342.50" stroke="#6aa842" stroke-width="1.2"/>
<line x1="66.96" y1="326.80" x2="71.56" y2="326.80" stroke="#6aa842" stroke-width="1.2"/>
<line x1="66.96" y1="342.50" x2="71.56" y2="342.50" stroke="#6aa842" stroke-width="1.2"/>
<line x1="83.64" y1="321.30" x2="83.64" y2="345.20" stroke="#6aa842" stroke-width="1.2"/>
<line x1="81.34" y1="321.30" x2="85.94" y2="321.30" stroke="#6aa842" stroke-width="1.2"/>
<line x1="81.34" y1="345.20" x2="85.94" y2="345.20" stroke="#6aa842" stroke-width="1.2"/>
<line x1="98.02" y1="282.80" x2="98.02" y2="322.70" stroke="#6aa842" stroke-width="1.2"/>
<line x1="95.72" y1="282.80" x2="100.32" y2="282.80" stroke="#6aa842" stroke-width="1.2"/>
<line x1="95.72" y1="322.70" x2="100.32" y2="322.70" stroke="#6aa842" stroke-width="1.2"/>
<line x1="112.40" y1="296.00" x2="112.40" y2="324.20" stroke="#6aa842" stroke-width="1.2"/>
<line x1="110.10" y1="296.00" x2="114.70" y2="296.00" stroke="#6aa842" stroke-width="1.2"/>
<line x1="110.10" y1="324.20" x2="114.70" y2="324.20" stroke="#6aa842" stroke-width="1.2"/>
<line x1="126.78" y1="277.30" x2="126.78" y2="317.80" stroke="#6aa842" stroke-width="1.2"/>
<line x1="124.48" y1="277.30" x2="129.08" y2="277.30" stroke="#6aa842" stroke-width="1.2"/>
<line x1="124.48" y1="317.80" x2="129.08" y2="317.80" stroke="#6aa842" stroke-width="1.2"/>
<line x1="141.16" y1="302.50" x2="141.16" y2="322.00" stroke="#6aa842" stroke-width="1.2"/>
<line x1="138.86" y1="302.50" x2="143.46" y2="302.50" stroke="#6aa842" stroke-width="1.2"/>
<line x1="138.86" y1="322.00" x2="143.46" y2="322.00" stroke="#6aa842" stroke-width="1.2"/>
<line x1="155.54" y1="267.10" x2="155.54" y2="313.00" stroke="#6aa842" stroke-width="1.2"/>
<line x1="153.24" y1="267.10" x2="157.84" y2="267.10" stroke="#6aa842" stroke-width="1.2"/>
<line x1="153.24" y1="313.00" x2="157.84" y2="313.00" stroke="#6aa842" stroke-width="1.2"/>
<line x1="169.92" y1="281.00" x2="169.92" y2="315.50" stroke="#6aa842" stroke-width="1.8"/>
<line x1="167.62" y1="281.00" x2="172.22" y2="281.00" stroke="#6aa842" stroke-width="1.8"/>
<line x1="167.62" y1="315.50" x2="172.22" y2="315.50" stroke="#6aa842" stroke-width="1.8"/>
<line x1="184.30" y1="275.20" x2="184.30" y2="316.60" stroke="#6aa842" stroke-width="1.2"/>
<line x1="182.00" y1="275.20" x2="186.60" y2="275.20" stroke="#6aa842" stroke-width="1.2"/>
<line x1="182.00" y1="316.60" x2="186.60" y2="316.60" stroke="#6aa842" stroke-width="1.2"/>
<line x1="328.10" y1="271.30" x2="328.10" y2="300.80" stroke="#6aa842" stroke-width="1.2"/>
<line x1="325.80" y1="271.30" x2="330.40" y2="271.30" stroke="#6aa842" stroke-width="1.2"/>
<line x1="325.80" y1="300.80" x2="330.40" y2="300.80" stroke="#6aa842" stroke-width="1.2"/>
<circle cx="43.38" cy="395.60" r="1.7" fill="#4b2572"/>
<circle cx="44.81" cy="393.64" r="1.7" fill="#4b2572"/>
<circle cx="46.97" cy="391.68" r="1.7" fill="#4b2572"/>
<circle cx="48.41" cy="390.21" r="1.7" fill="#4b2572"/>
<circle cx="49.85" cy="385.80" r="1.7" fill="#4b2572"/>
<circle cx="51.28" cy="387.76" r="1.7" fill="#4b2572"/>
<circle cx="52.72" cy="385.80" r="1.7" fill="#4b2572"/>
<circle cx="54.16" cy="390.70" r="1.7" fill="#4b2572"/>
<circle cx="55.60" cy="387.76" r="1.7" fill="#4b2572"/>
<circle cx="57.04" cy="389.72" r="1.7" fill="#4b2572"/>
<circle cx="69.26" cy="390.50" r="1.7" fill="#4b2572"/>
<circle cx="83.64" cy="390.50" r="1.7" fill="#4b2572"/>
<circle cx="98.02" cy="390.50" r="1.7" fill="#4b2572"/>
<circle cx="112.40" cy="391.00" r="1.7" fill="#4b2572"/>
<circle cx="126.78" cy="392.20" r="1.7" fill="#4b2572"/>
<circle cx="141.16" cy="389.60" r="1.7" fill="#4b2572"/>
<circle cx="155.54" cy="391.40" r="1.7" fill="#4b2572"/>
<circle cx="169.92" cy="389.60" r="1.7" fill="#4b2572"/>
<circle cx="184.30" cy="388.00" r="1.7" fill="#4b2572"/>
<circle cx="328.10" cy="390.30" r="1.7" fill="#4b2572"/>
<rect x="41.88" y="389.20" width="3.00" height="3.00" fill="#2d4a7e"/>
<rect x="44.75" y="380.38" width="3.00" height="3.00" fill="#2d4a7e"/>
<rect x="47.63" y="369.60" width="3.00" height="3.00" fill="#2d4a7e"/>
<rect x="50.50" y="366.66" width="3.00" height="3.00" fill="#2d4a7e"/>
<rect x="53.38" y="363.72" width="3.00" height="3.00" fill="#2d4a7e"/>
<rect x="51.37" y="371.56" width="3.00" height="3.00" fill="#2d4a7e"/>
<rect x="53.67" y="368.62" width="3.00" height="3.00" fill="#2d4a7e"/>
<rect x="67.76" y="336.00" width="3.00" height="3.00" fill="#2d4a7e"/>
<rect x="82.14" y="326.80" width="3.00" height="3.00" fill="#2d4a7e"/>
<rect x="96.52" y="310.00" width="3.00" height="3.00" fill="#2d4a7e"/>
<rect x="110.90" y="308.50" width="3.00" height="3.00" fill="#2d4a7e"/>
<rect x="125.28" y="306.50" width="3.00" height="3.00" fill="#2d4a7e"/>
<rect x="139.66" y="300.50" width="3.00" height="3.00" fill="#2d4a7e"/>
<rect x="154.04" y="305.70" width="3.00" height="3.00" fill="#2d4a7e"/>
<rect x="168.42" y="296.80" width="3.00" height="3.00" fill="#2d4a7e"/>
<rect x="182.80" y="295.90" width="3.00" height="3.00" fill="#2d4a7e"/>
<rect x="326.60" y="306.50" width="3.00" height="3.00" fill="#2d4a7e"/>
<path d="M40.23 388.12L44.23 388.12L42.23 391.72Z" fill="#a3002b"/>
<path d="M41.66 383.22L45.66 383.22L43.66 386.82Z" fill="#a3002b"/>
<path d="M43.25 378.32L47.25 378.32L45.25 381.92Z" fill="#a3002b"/>
<path d="M44.54 372.44L48.54 372.44L46.54 376.04Z" fill="#a3002b"/>
<path d="M45.98 367.54L49.98 367.54L47.98 371.14Z" fill="#a3002b"/>
<path d="M47.27 362.64L51.27 362.64L49.27 366.24Z" fill="#a3002b"/>
<path d="M50.00 363.62L54.00 363.62L52.00 367.22Z" fill="#a3002b"/>
<path d="M52.88 356.76L56.88 356.76L54.88 360.36Z" fill="#a3002b"/>
<path d="M67.26 336.40L71.26 336.40L69.26 340.00Z" fill="#a3002b"/>
<path d="M81.64 319.70L85.64 319.70L83.64 323.30Z" fill="#a3002b"/>
<path d="M96.02 313.20L100.02 313.20L98.02 316.80Z" fill="#a3002b"/>
<path d="M110.40 307.40L114.40 307.40L112.40 311.00Z" fill="#a3002b"/>
<path d="M124.78 312.40L128.78 312.40L126.78 316.00Z" fill="#a3002b"/>
<path d="M139.16 303.90L143.16 303.90L141.16 307.50Z" fill="#a3002b"/>
<path d="M153.54 302.70L157.54 302.70L155.54 306.30Z" fill="#a3002b"/>
<path d="M167.92 295.80L171.92 295.80L169.92 299.40Z" fill="#a3002b"/>
<path d="M182.30 303.90L186.30 303.90L184.30 307.50Z" fill="#a3002b"/>
<path d="M326.10 285.90L330.10 285.90L328.10 289.50Z" fill="#a3002b"/>
<path d="M41.94 389.87L43.94 392.17L41.94 394.47L39.94 392.17Z" fill="#6aa842"/>
<path d="M46.25 378.60L48.25 380.90L46.25 383.20L44.25 380.90Z" fill="#6aa842"/>
<path d="M49.13 369.78L51.13 372.08L49.13 374.38L47.13 372.08Z" fill="#6aa842"/>
<path d="M52.00 365.86L54.00 368.16L52.00 370.46L50.00 368.16Z" fill="#6aa842"/>
<path d="M53.44 356.06L55.44 358.36L53.44 360.66L51.44 358.36Z" fill="#6aa842"/>
<path d="M54.88 360.96L56.88 363.26L54.88 365.56L52.88 363.26Z" fill="#6aa842"/>
<path d="M54.16 367.82L56.16 370.12L54.16 372.42L52.16 370.12Z" fill="#6aa842"/>
<path d="M55.74 371.74L57.74 374.04L55.74 376.34L53.74 374.04Z" fill="#6aa842"/>
<path d="M69.26 332.10L71.26 334.40L69.26 336.70L67.26 334.40Z" fill="#6aa842"/>
<path d="M83.64 330.90L85.64 333.20L83.64 335.50L81.64 333.20Z" fill="#6aa842"/>
<path d="M98.02 300.20L100.02 302.50L98.02 304.80L96.02 302.50Z" fill="#6aa842"/>
<path d="M112.40 308.10L114.40 310.40L112.40 312.70L110.40 310.40Z" fill="#6aa842"/>
<path d="M126.78 295.40L128.78 297.70L126.78 300.00L124.78 297.70Z" fill="#6aa842"/>
<path d="M141.16 311.90L143.16 314.20L141.16 316.50L139.16 314.20Z" fill="#6aa842"/>
<path d="M155.54 287.80L157.54 290.10L155.54 292.40L153.54 290.10Z" fill="#6aa842"/>
<path d="M169.92 295.70L171.92 298.00L169.92 300.30L167.92 298.00Z" fill="#6aa842"/>
<path d="M184.30 293.70L186.30 296.00L184.30 298.30L182.30 296.00Z" fill="#6aa842"/>
<path d="M328.10 284.50L330.10 286.80L328.10 289.10L326.10 286.80Z" fill="#6aa842"/>
<polyline points="40.5,400.5 40.5,400.2 40.6,399.3 40.8,398.2 41.1,397.0 41.4,396.0 41.8,395.1 42.2,394.4 42.8,393.8 43.4,393.3 44.1,392.9 44.8,392.6 45.6,392.4 46.5,392.2 47.5,392.0 48.5,391.9 49.6,391.8 50.8,391.7 52.0,391.6 53.3,391.5 54.7,391.4 56.2,391.4 57.7,391.3 59.3,391.3 61.0,391.3 62.7,391.2 64.5,391.2 66.4,391.2 68.3,391.1 70.4,391.1 72.5,391.1 74.6,391.1 76.9,391.1 79.2,391.0 81.5,391.0 84.0,391.0 86.5,391.0 89.1,391.0 91.8,391.0 94.5,391.0 97.3,391.0 100.2,391.0 103.1,391.0 106.2,390.9 109.2,390.9 112.4,390.9 115.6,390.9 118.9,390.9 122.3,390.9 125.8,390.9 129.3,390.9 132.9,390.9 136.5,390.9 140.2,390.9 144.0,390.9 147.9,390.9 151.8,390.9 155.9,390.9 159.9,390.9 164.1,390.9 168.3,390.9 172.6,390.9 177.0,390.9 181.4,390.9 185.9,390.9 190.5,390.9 195.2,390.9 199.9,390.9 204.7,390.9 209.5,390.9 214.5,390.9 219.5,390.9 224.6,390.9 229.7,390.8 234.9,390.8 240.2,390.8 245.6,390.8 251.0,390.8 256.5,390.8 262.1,390.8 267.7,390.8 273.5,390.8 279.2,390.8 285.1,390.8 291.0,390.8 297.0,390.8 303.1,390.8 309.2,390.8 315.5,390.8 321.7,390.8 328.1,390.8" fill="none" stroke="#4b2572" stroke-width="1.3" stroke-linejoin="round"/>
<polyline points="40.5,400.5 40.5,400.4 40.6,400.2 40.8,399.7 41.1,399.0 41.4,398.0 41.8,396.7 42.2,395.1 42.8,393.2 43.4,391.1 44.1,388.8 44.8,386.3 45.6,383.6 46.5,380.7 47.5,377.8 48.5,374.8 49.6,371.7 50.8,368.6 52.0,365.5 53.3,362.5 54.7,359.5 56.2,356.6 57.7,353.7 59.3,350.9 61.0,348.3 62.7,345.7 64.5,343.2 66.4,340.9 68.3,338.6 70.4,336.5 72.5,334.4 74.6,332.5 76.9,330.7 79.2,328.9 81.5,327.3 84.0,325.7 86.5,324.2 89.1,322.8 91.8,321.5 94.5,320.2 97.3,319.0 100.2,317.9 103.1,316.8 106.2,315.8 109.2,314.9 112.4,313.9 115.6,313.1 118.9,312.3 122.3,311.5 125.8,310.8 129.3,310.1 132.9,309.4 136.5,308.8 140.2,308.2 144.0,307.6 147.9,307.1 151.8,306.6 155.9,306.1 159.9,305.6 164.1,305.2 168.3,304.7 172.6,304.3 177.0,304.0 181.4,303.6 185.9,303.2 190.5,302.9 195.2,302.6 199.9,302.3 204.7,302.0 209.5,301.7 214.5,301.4 219.5,301.2 224.6,300.9 229.7,300.7 234.9,300.4 240.2,300.2 245.6,300.0 251.0,299.8 256.5,299.6 262.1,299.4 267.7,299.2 273.5,299.1 279.2,298.9 285.1,298.7 291.0,298.6 297.0,298.4 303.1,298.3 309.2,298.2 315.5,298.0 321.7,297.9 328.1,297.8" fill="none" stroke="#2d4a7e" stroke-width="1.4" stroke-linejoin="round"/>
<polyline points="40.5,400.5 40.5,400.4 40.6,400.1 40.8,399.5 41.1,398.6 41.4,397.5 41.8,396.1 42.2,394.4 42.8,392.6 43.4,390.4 44.1,388.1 44.8,385.7 45.6,383.0 46.5,380.3 47.5,377.4 48.5,374.5 49.6,371.6 50.8,368.6 52.0,365.6 53.3,362.7 54.7,359.8 56.2,356.9 57.7,354.1 59.3,351.3 61.0,348.6 62.7,346.0 64.5,343.5 66.4,341.0 68.3,338.7 70.4,336.4 72.5,334.2 74.6,332.2 76.9,330.1 79.2,328.2 81.5,326.4 84.0,324.6 86.5,323.0 89.1,321.4 91.8,319.8 94.5,318.4 97.3,317.0 100.2,315.6 103.1,314.4 106.2,313.2 109.2,312.0 112.4,310.9 115.6,309.8 118.9,308.8 122.3,307.9 125.8,307.0 129.3,306.1 132.9,305.2 136.5,304.4 140.2,303.7 144.0,302.9 147.9,302.2 151.8,301.5 155.9,300.9 159.9,300.3 164.1,299.7 168.3,299.1 172.6,298.6 177.0,298.0 181.4,297.5 185.9,297.1 190.5,296.6 195.2,296.2 199.9,295.7 204.7,295.3 209.5,294.9 214.5,294.5 219.5,294.2 224.6,293.8 229.7,293.5 234.9,293.2 240.2,292.8 245.6,292.5 251.0,292.2 256.5,292.0 262.1,291.7 267.7,291.4 273.5,291.2 279.2,290.9 285.1,290.7 291.0,290.5 297.0,290.2 303.1,290.0 309.2,289.8 315.5,289.6 321.7,289.4 328.1,289.2" fill="none" stroke="#6aa842" stroke-width="1.4" stroke-linejoin="round"/>
<polyline points="40.5,400.5 40.5,400.4 40.6,400.1 40.8,399.5 41.1,398.7 41.4,397.5 41.8,396.1 42.2,394.5 42.8,392.5 43.4,390.4 44.1,388.1 44.8,385.6 45.6,382.9 46.5,380.1 47.5,377.3 48.5,374.3 49.6,371.4 50.8,368.4 52.0,365.4 53.3,362.5 54.7,359.6 56.2,356.7 57.7,353.9 59.3,351.2 61.0,348.6 62.7,346.0 64.5,343.5 66.4,341.2 68.3,338.9 70.4,336.7 72.5,334.6 74.6,332.6 76.9,330.7 79.2,328.8 81.5,327.1 84.0,325.4 86.5,323.8 89.1,322.3 91.8,320.9 94.5,319.5 97.3,318.2 100.2,316.9 103.1,315.7 106.2,314.6 109.2,313.5 112.4,312.5 115.6,311.5 118.9,310.6 122.3,309.7 125.8,308.8 129.3,308.0 132.9,307.3 136.5,306.5 140.2,305.8 144.0,305.1 147.9,304.5 151.8,303.9 155.9,303.3 159.9,302.7 164.1,302.2 168.3,301.7 172.6,301.2 177.0,300.7 181.4,300.2 185.9,299.8 190.5,299.4 195.2,299.0 199.9,298.6 204.7,298.2 209.5,297.9 214.5,297.5 219.5,297.2 224.6,296.9 229.7,296.6 234.9,296.3 240.2,296.0 245.6,295.7 251.0,295.5 256.5,295.2 262.1,295.0 267.7,294.7 273.5,294.5 279.2,294.3 285.1,294.1 291.0,293.9 297.0,293.7 303.1,293.5 309.2,293.3 315.5,293.1 321.7,292.9 328.1,292.8" fill="none" stroke="#a3002b" stroke-width="1.4" stroke-linejoin="round"/>
<line x1="40.65" y1="250.00" x2="40.65" y2="401.70" stroke="#000" stroke-width="1.3"/>
<line x1="39.90" y1="401.20" x2="330.60" y2="401.20" stroke="#000" stroke-width="1.45"/>
<line x1="37.10" y1="401.00" x2="40.50" y2="401.00" stroke="#000" stroke-width="1.0"/>
<text x="34.00" y="404.20" font-size="9.3" text-anchor="end" textLength="4.00" lengthAdjust="spacingAndGlyphs">0</text>
<line x1="37.10" y1="351.60" x2="40.50" y2="351.60" stroke="#000" stroke-width="1.0"/>
<text x="34.00" y="354.00" font-size="9.3" text-anchor="end" textLength="10.30" lengthAdjust="spacingAndGlyphs">0.5</text>
<line x1="37.10" y1="302.30" x2="40.50" y2="302.30" stroke="#000" stroke-width="1.0"/>
<text x="34.00" y="304.70" font-size="9.3" text-anchor="end" textLength="10.30" lengthAdjust="spacingAndGlyphs">1.0</text>
<line x1="37.10" y1="253.30" x2="40.50" y2="253.30" stroke="#000" stroke-width="1.0"/>
<text x="34.00" y="255.70" font-size="9.3" text-anchor="end" textLength="10.30" lengthAdjust="spacingAndGlyphs">1.5</text>
<line x1="40.50" y1="401.00" x2="40.50" y2="403.90" stroke="#000" stroke-width="1.0"/>
<text x="40.50" y="415.30" font-size="9.3" text-anchor="middle" textLength="4.20" lengthAdjust="spacingAndGlyphs">0</text>
<line x1="112.40" y1="401.00" x2="112.40" y2="403.90" stroke="#000" stroke-width="1.0"/>
<text x="112.40" y="415.30" font-size="9.3" text-anchor="middle" textLength="23.60" lengthAdjust="spacingAndGlyphs">50,000</text>
<line x1="184.30" y1="401.00" x2="184.30" y2="403.90" stroke="#000" stroke-width="1.0"/>
<text x="184.30" y="415.30" font-size="9.3" text-anchor="middle" textLength="27.80" lengthAdjust="spacingAndGlyphs">100,000</text>
<line x1="256.20" y1="401.00" x2="256.20" y2="403.90" stroke="#000" stroke-width="1.0"/>
<text x="256.20" y="415.30" font-size="9.3" text-anchor="middle" textLength="27.80" lengthAdjust="spacingAndGlyphs">150,000</text>
<line x1="328.10" y1="401.00" x2="328.10" y2="403.90" stroke="#000" stroke-width="1.0"/>
<text x="328.10" y="415.30" font-size="9.3" text-anchor="middle" textLength="27.80" lengthAdjust="spacingAndGlyphs">200,000</text>
<text x="16.60" y="325.10" font-size="9.4" text-anchor="middle" textLength="69.50" lengthAdjust="spacingAndGlyphs" transform="rotate(-90 16.60 325.10)" style="stroke-width:0.32px">Activation index</text>
<text x="185.80" y="428.90" font-size="9.6" text-anchor="middle" textLength="45.60" lengthAdjust="spacingAndGlyphs" style="stroke-width:0.3px">EGFP (MFI)</text>
<line x1="221.60" y1="330.30" x2="228.60" y2="330.30" stroke="#4b2572" stroke-width="1.2"/>
<circle cx="225.10" cy="330.30" r="1.7" fill="#4b2572"/>
<text x="232.50" y="333.70" font-size="8.6" textLength="17.50" lengthAdjust="spacingAndGlyphs">EGFP</text>
<line x1="221.60" y1="342.35" x2="228.60" y2="342.35" stroke="#2d4a7e" stroke-width="1.2"/>
<rect x="223.60" y="340.85" width="3.00" height="3.00" fill="#2d4a7e"/>
<text x="232.50" y="345.75" font-size="8.6" textLength="48.00" lengthAdjust="spacingAndGlyphs">THD(wt)-EGFP</text>
<line x1="221.60" y1="354.40" x2="228.60" y2="354.40" stroke="#a3002b" stroke-width="1.2"/>
<path d="M223.10 352.80L227.10 352.80L225.10 356.40Z" fill="#a3002b"/>
<text x="232.50" y="357.80" font-size="8.6" textLength="56.00" lengthAdjust="spacingAndGlyphs">THD(R35E)-EGFP</text>
<line x1="221.60" y1="366.45" x2="228.60" y2="366.45" stroke="#6aa842" stroke-width="1.2"/>
<path d="M225.10 364.15L227.10 366.45L225.10 368.75L223.10 366.45Z" fill="#6aa842"/>
<text x="232.50" y="369.85" font-size="8.6" textLength="74.00" lengthAdjust="spacingAndGlyphs">THD(K15E,R35E)-EGFP</text>
<rect x="0.00" y="0.00" width="520.00" height="1.00" fill="#000"/>
<rect x="0.00" y="0.00" width="1.45" height="439.00" fill="#1e1e1e"/>
<rect x="518.85" y="0.00" width="1.15" height="439.00" fill="#000"/>
<rect x="0.00" y="437.70" width="520.00" height="1.30" fill="#000"/>
</svg>
</body>
</html>
